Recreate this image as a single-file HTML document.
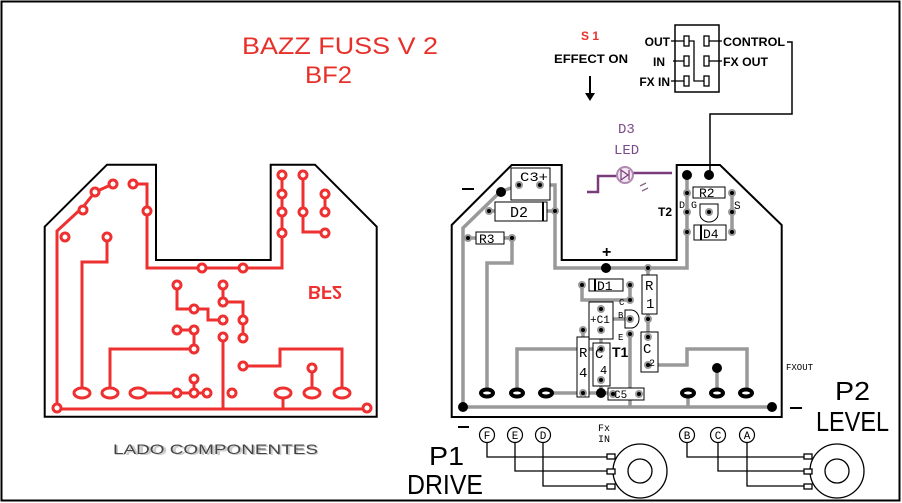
<!DOCTYPE html>
<html><head><meta charset="utf-8"><style>
html,body{margin:0;padding:0;background:#fff;}
svg{display:block;font-family:"Liberation Sans",sans-serif;}
</style></head><body>
<svg width="902" height="503" viewBox="0 0 902 503" xmlns="http://www.w3.org/2000/svg">
<rect x="1.5" y="1.5" width="898" height="499" fill="#fff" stroke="#000" stroke-width="2"/>
<!-- titles -->
<text x="242" y="54" font-size="24" fill="#e8302a" textLength="196" lengthAdjust="spacingAndGlyphs">BAZZ FUSS V 2</text>
<text x="305" y="83" font-size="24" fill="#e8302a" textLength="47" lengthAdjust="spacingAndGlyphs">BF2</text>
<text x="114" y="455" font-size="14" font-weight="bold" fill="#ccc" textLength="205" lengthAdjust="spacingAndGlyphs">LADO COMPONENTES</text>
<text x="113" y="454" font-size="14" fill="#444" textLength="205" lengthAdjust="spacingAndGlyphs">LADO COMPONENTES</text>

<!-- LEFT BOARD -->
<polygon points="44.7,226.7 107,164.7 156,164.7 156,260 270.7,260 270.7,164.7 315,164.7 376.7,226.7 376.7,416.7 44.7,416.7" fill="none" stroke="#000" stroke-width="2"/>
<g stroke="#ee3030" stroke-width="3" fill="none">
<polyline points="57,409 367,409"/>
<polyline points="57,409 57,231 83,207 95,192 113,184"/>
<polyline points="133,184 147,184 147,268 282,268 282,175"/>
<polyline points="282,194 282,175"/><polyline points="282,212 282,233"/>
<polyline points="303,175 303,232 325,232"/>
<polyline points="325,194 325,212"/>
<polyline points="107,237 107,262 82,262 82,393"/>
<polyline points="177,285 177,309 208,309 208,320 223,320"/>
<polyline points="223,285 223,302 243,302 243,338"/>
<polyline points="177,330 194,330 194,349 110,349 110,393"/>
<polyline points="223,337 223,409"/>
<polyline points="243,366 280,366 280,349 342,349 342,393"/>
<polyline points="312,368 312,393"/>
<polyline points="138,393 207,393"/><polyline points="194,379 194,393"/>
<polyline points="283,393 283,409"/>
</g>
<g fill="#fff" stroke="#ee3030" stroke-width="3">
<circle cx="113" cy="184" r="4"/><circle cx="95" cy="192" r="4"/><circle cx="83" cy="210" r="4"/>
<circle cx="65" cy="237" r="4"/><circle cx="107" cy="237" r="4"/><circle cx="133" cy="184" r="4"/>
<circle cx="147" cy="211" r="4"/><circle cx="202" cy="268" r="4"/><circle cx="243" cy="268" r="4"/>
<circle cx="282" cy="175" r="4"/><circle cx="282" cy="194" r="4"/><circle cx="282" cy="212" r="4"/><circle cx="282" cy="233" r="4"/>
<circle cx="303" cy="175" r="4"/><circle cx="303" cy="212" r="4"/>
<circle cx="325" cy="194" r="4"/><circle cx="325" cy="212" r="4"/><circle cx="325" cy="233" r="4"/>
<circle cx="177" cy="285" r="4"/><circle cx="194" cy="309" r="4"/><circle cx="223" cy="285" r="4"/>
<circle cx="223" cy="302" r="4"/><circle cx="223" cy="320" r="4"/><circle cx="243" cy="320" r="4"/><circle cx="243" cy="338" r="4"/>
<circle cx="177" cy="330" r="4"/><circle cx="194" cy="330" r="4"/><circle cx="194" cy="349" r="4"/>
<circle cx="223" cy="337" r="4"/><circle cx="243" cy="366" r="4"/><circle cx="312" cy="368" r="4"/>
<circle cx="194" cy="379" r="4"/><circle cx="177" cy="393" r="4"/><circle cx="194" cy="393" r="4"/>
<circle cx="207" cy="393" r="4"/><circle cx="232" cy="393" r="4"/>
<circle cx="57" cy="408" r="4"/><circle cx="367" cy="408" r="4"/>
<ellipse cx="82" cy="393" rx="8" ry="5"/><ellipse cx="110" cy="393" rx="8" ry="5"/><ellipse cx="138" cy="393" rx="8" ry="5"/>
<ellipse cx="283" cy="393" rx="8" ry="5"/><ellipse cx="312" cy="393" rx="8" ry="5"/><ellipse cx="342" cy="393" rx="8" ry="5"/>
</g>
<text x="0" y="0" font-size="18" font-weight="bold" fill="#ee3030" text-anchor="middle" transform="translate(325,286) scale(1,-1)" textLength="34" lengthAdjust="spacingAndGlyphs">BF2</text>

<!-- RIGHT BOARD -->
<polygon points="451.7,225 511.7,165 561.7,165 561.7,260 676.7,260 676.7,165 720,165 781.7,225 781.7,417 451.7,417" fill="none" stroke="#000" stroke-width="2"/>
<g stroke="#999" stroke-width="3.5" fill="none">
<polyline points="463,407 772,407"/>
<polyline points="463,407 463,228 500,192 519,185"/>
<polyline points="540,185 555,185 555,268 687,268 687,175"/>
<polyline points="512,238 512,263 487,263 487,393"/>
<polyline points="582,285 582,300 630,300"/>
<polyline points="630,285 630,300"/>
<polyline points="630,334 630,408"/>
<polyline points="630,319 601,319"/>
<polyline points="648,268 648,337"/>
<polyline points="648,365 687,365 687,349 747,349 747,395"/>
<polyline points="517,395 517,349 601,349"/>
<polyline points="540,393 613,393"/>
<polyline points="583,330 583,393"/>
<polyline points="717,368 717,393"/>
<polyline points="688,393 688,407"/>
<polyline points="732,193 732,232"/>
<polyline points="489,211 555,211"/>
<polyline points="468,238 512,238"/>
<polyline points="601,309 601,393"/>
</g>
<g fill="#fff" stroke="#000" stroke-width="1">
<rect x="511" y="168" width="39" height="32"/>
<rect x="495" y="202" width="52" height="19"/>
<rect x="476" y="232" width="28" height="12"/>
<rect x="589" y="279" width="34" height="12"/>
<rect x="642" y="275" width="15" height="39"/>
<rect x="641" y="332" width="17" height="40"/>
<rect x="589" y="302" width="24" height="37"/>
<rect x="577" y="337" width="12" height="60"/>
<rect x="593" y="343" width="17" height="43"/>
<rect x="608" y="388" width="36" height="12"/>
<rect x="694" y="225" width="32" height="15"/>
<rect x="693" y="187" width="32" height="11"/>
<path d="M700,204 h18 v10 a9,8 0 0 1 -18,0 z"/>
<path d="M625,310 h6 a8,9 0 0 1 0,18 h-6 z"/>
</g>
<g fill="#000"><rect x="542" y="202" width="2" height="19"/><rect x="594" y="279" width="2" height="12"/><rect x="700" y="225" width="2" height="15"/></g>
<g fill="#000" stroke="#999" stroke-width="2">
<circle cx="519" cy="185" r="3"/><circle cx="540" cy="185" r="3"/>
<circle cx="489" cy="211" r="3"/><circle cx="555" cy="211" r="3"/>
<circle cx="468" cy="238" r="3"/><circle cx="512" cy="238" r="3"/>
<circle cx="582" cy="285" r="3"/><circle cx="630" cy="285" r="3"/>
<circle cx="630" cy="300" r="3"/><circle cx="630" cy="319" r="3"/><circle cx="630" cy="334" r="3"/>
<circle cx="648" cy="268" r="3"/><circle cx="648" cy="319" r="3"/>
<circle cx="648" cy="337" r="3"/><circle cx="648" cy="365" r="3"/>
<circle cx="601" cy="309" r="3"/><circle cx="601" cy="330" r="3"/>
<circle cx="583" cy="330" r="3"/><circle cx="583" cy="393" r="3"/>
<circle cx="601" cy="349" r="3"/><circle cx="601" cy="380" r="3"/>
<circle cx="613" cy="394" r="3"/><circle cx="639" cy="394" r="3"/>
<circle cx="687" cy="232" r="3"/><circle cx="732" cy="232" r="3"/>
<circle cx="687" cy="193" r="3"/><circle cx="732" cy="193" r="3"/>
<circle cx="687" cy="212" r="3"/><circle cx="732" cy="212" r="3"/><circle cx="709" cy="212" r="3"/>
</g>
<g fill="#000">
<ellipse cx="487" cy="393" rx="8" ry="5.5"/><ellipse cx="517" cy="393" rx="8" ry="5.5"/><ellipse cx="546" cy="393" rx="8" ry="5.5"/>
<ellipse cx="688" cy="393" rx="8" ry="5.5"/><ellipse cx="717" cy="393" rx="8" ry="5.5"/><ellipse cx="746" cy="393" rx="8" ry="5.5"/>
<circle cx="501" cy="192" r="5"/><circle cx="606" cy="268" r="5"/><circle cx="687" cy="175" r="5"/><circle cx="709" cy="175" r="5"/>
<circle cx="717" cy="368" r="5"/><circle cx="463" cy="407" r="5"/><circle cx="772" cy="407" r="5"/><circle cx="601" cy="393" r="5"/>
</g>
<g fill="#fff"><ellipse cx="487" cy="393" rx="4" ry="1.5"/><ellipse cx="517" cy="393" rx="4" ry="1.5"/><ellipse cx="546" cy="393" rx="4" ry="1.5"/><ellipse cx="688" cy="393" rx="4" ry="1.5"/><ellipse cx="717" cy="393" rx="4" ry="1.5"/><ellipse cx="746" cy="393" rx="4" ry="1.5"/></g>
<g font-size="13" fill="#000" font-family="Liberation Mono,monospace">
<text x="520" y="181" textLength="28" lengthAdjust="spacingAndGlyphs">C3+</text><text x="510" y="217" font-size="15">D2</text>
<text x="479" y="243">R3</text><text x="597" y="290">D1</text><text x="703" y="238">D4</text>
<text x="699" y="197">R2</text>
<text x="645" y="290" font-size="14">R</text><text x="646" y="308" font-size="14">1</text>
<text x="643" y="353" font-size="14">C</text><text x="649" y="366" font-size="10">2</text>
<text x="590" y="323" font-size="11">+C1</text>
<text x="579" y="357" font-size="14">R</text><text x="579" y="377" font-size="14">4</text>
<text x="595" y="358" font-size="14">C</text><text x="600" y="374" font-size="12">4</text>
<text x="614" y="398" font-size="11">C5</text>
<text x="679" y="208" font-size="10">D G</text><text x="734" y="209" font-size="11">S</text>
<text x="619" y="305" font-size="9">C</text><text x="618" y="318" font-size="9">B</text><text x="618" y="340" font-size="9">E</text>
<text x="786" y="370" font-size="9">FXOUT</text>
</g>
<text x="658" y="216" font-size="12" font-weight="bold">T2</text>
<text x="612" y="357" font-size="14" font-weight="bold">T1</text>
<text x="602" y="257" font-size="16" font-weight="bold">+</text>
<rect x="462" y="188" width="12" height="2" fill="#000"/>
<rect x="790" y="407" width="12" height="2" fill="#000"/>
<!-- LED -->
<g stroke="#7a3b7a" fill="none" stroke-width="2.5">
<polyline points="587,192 598,192 598,176 617,176"/>
<line x1="633" y1="173" x2="672" y2="173"/>
</g>
<circle cx="625" cy="175" r="8" fill="#f2e6f2" stroke="#b08ab0" stroke-width="2"/>
<path d="M621,170 l7,5 l-7,5 z M629,170 v10" stroke="#7a3b7a" fill="none" stroke-width="1.2"/>
<path d="M640,186 l6,-3 M642,191 l6,-3" stroke="#8a6a8a" stroke-width="1.5"/>
<text x="618" y="133" font-size="14" fill="#7a4a8a" font-family="Liberation Mono,monospace">D3</text>
<text x="614" y="154" font-size="14" fill="#7a4a8a" font-family="Liberation Mono,monospace">LED</text>
<!-- switch -->
<text x="590" y="40" font-size="12" font-weight="bold" fill="#e8302a" text-anchor="middle">S 1</text>
<text x="554" y="63" font-size="12" font-weight="bold" fill="#000" textLength="74" lengthAdjust="spacingAndGlyphs">EFFECT ON</text>
<line x1="590" y1="76" x2="590" y2="95" stroke="#000" stroke-width="2"/>
<polygon points="585,93 595,93 590,101" fill="#000"/>
<rect x="675" y="25" width="44" height="67" fill="#fff" stroke="#000" stroke-width="1.5"/>
<g fill="#fff" stroke="#000" stroke-width="1.3">
<rect x="684" y="36" width="5" height="10"/><rect x="684" y="56" width="5" height="10"/><rect x="684" y="76" width="5" height="10"/>
<rect x="704" y="36" width="5" height="10"/><rect x="704" y="56" width="5" height="10"/><rect x="704" y="76" width="5" height="10"/>
</g>
<g stroke="#000" stroke-width="1.3" fill="none">
<polyline points="689,41 694,41 694,81 704,81"/>
<line x1="671" y1="41" x2="684" y2="41"/><line x1="673" y1="61" x2="684" y2="61"/><line x1="671" y1="81" x2="684" y2="81"/>
<line x1="709" y1="41" x2="722" y2="41"/><line x1="709" y1="61" x2="722" y2="61"/>
<polyline points="787,42 792,42 792,114 710,114 710,172" stroke-width="1.5"/>
</g>
<g font-size="12" font-weight="bold" fill="#000">
<text x="670" y="46" text-anchor="end">OUT</text><text x="665" y="66" text-anchor="end">IN</text><text x="670" y="86" text-anchor="end">FX IN</text>
<text x="723" y="46" textLength="62" lengthAdjust="spacingAndGlyphs">CONTROL</text><text x="723" y="66" textLength="45" lengthAdjust="spacingAndGlyphs">FX OUT</text>
</g>
<!-- pots -->
<g fill="none" stroke="#000" stroke-width="1.3">
<polyline points="487,442 487,457 607,457"/><polyline points="515,442 515,471 607,471"/><polyline points="543,442 543,486 607,486"/>
<polyline points="687,442 687,457 810,457"/><polyline points="718,442 718,471 810,471"/><polyline points="747,442 747,486 810,486"/>
<circle cx="640" cy="471" r="27" fill="#fff"/><circle cx="640" cy="471" r="12"/>
<circle cx="837" cy="471" r="27" fill="#fff"/><circle cx="837" cy="471" r="12"/>
<rect x="607" y="454" width="8" height="5" fill="#fff"/><rect x="607" y="469" width="8" height="5" fill="#fff"/><rect x="607" y="484" width="8" height="5" fill="#fff"/>
<rect x="804" y="454" width="8" height="5" fill="#fff"/><rect x="804" y="469" width="8" height="5" fill="#fff"/><rect x="804" y="484" width="8" height="5" fill="#fff"/>
</g>
<g fill="#fff" stroke="#000" stroke-width="1.2">
<circle cx="487" cy="435" r="7.5"/><circle cx="515" cy="435" r="7.5"/><circle cx="543" cy="435" r="7.5"/>
<circle cx="687" cy="435" r="7.5"/><circle cx="718" cy="435" r="7.5"/><circle cx="747" cy="435" r="7.5"/>
</g>
<g font-size="11" fill="#000" text-anchor="middle" font-family="Liberation Mono,monospace">
<text x="487" y="439">F</text><text x="515" y="439">E</text><text x="543" y="439">D</text>
<text x="687" y="439">B</text><text x="718" y="439">C</text><text x="747" y="439">A</text>
<text x="604" y="431" font-size="10">Fx</text><text x="604" y="442" font-size="10">IN</text>
</g>
<rect x="458" y="426" width="11" height="2" fill="#000"/>
<g font-family="Liberation Sans Narrow,Liberation Sans,sans-serif" fill="#000">
<text x="429" y="465" font-size="26" textLength="35" lengthAdjust="spacingAndGlyphs">P1</text>
<text x="407" y="494" font-size="28" textLength="76" lengthAdjust="spacingAndGlyphs">DRIVE</text>
<text x="835" y="400" font-size="26" textLength="35" lengthAdjust="spacingAndGlyphs">P2</text>
<text x="816" y="431" font-size="28" textLength="73" lengthAdjust="spacingAndGlyphs">LEVEL</text>
</g>
</svg>
</body></html>
